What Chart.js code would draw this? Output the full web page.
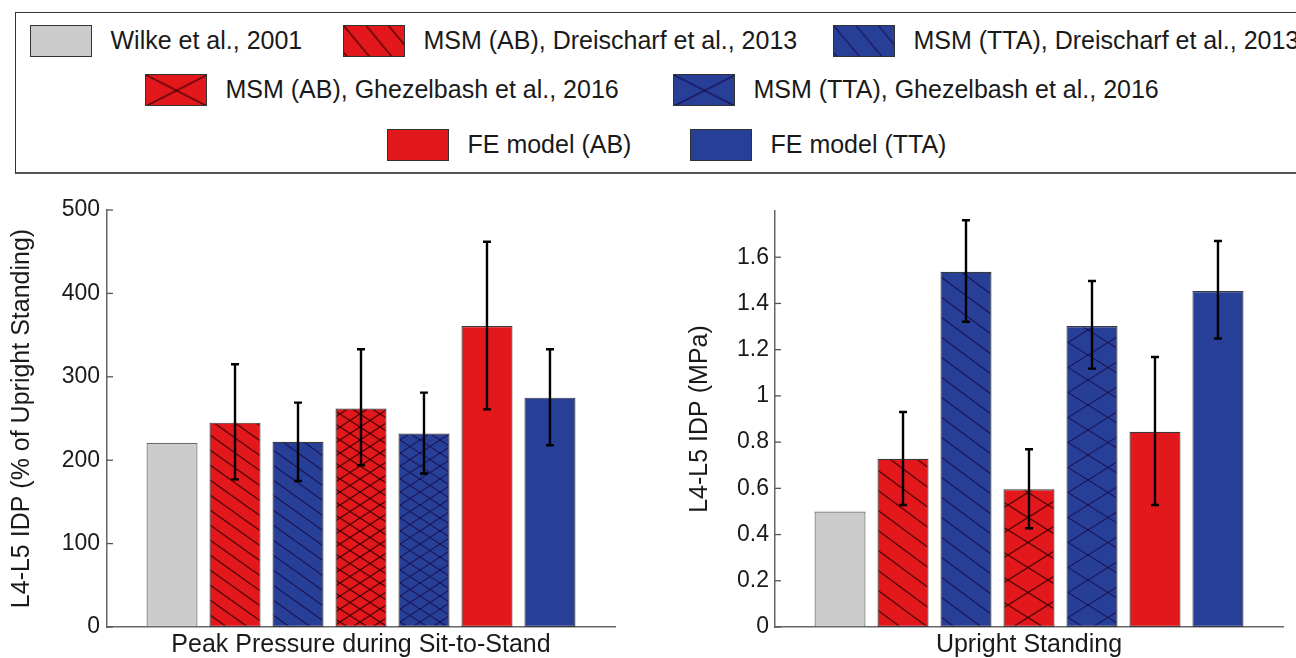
<!DOCTYPE html>
<html>
<head>
<meta charset="utf-8">
<script src="https://cdn.jsdelivr.net/npm/chart.js@4.4.1/dist/chart.umd.min.js"></script>
<style>
  body { margin: 0; width: 1296px; height: 658px; background: #fff; position: relative; overflow: hidden;
         font-family: "Liberation Sans", Arial, sans-serif; color: #1a1a1a; }
  #legend { position: absolute; left: 15px; top: 12px; width: 1320px; height: 159px;
            border: 1.5px solid #333; border-bottom: 2px solid #555; }
  .item { position: absolute; height: 34px; display: flex; align-items: center; font-size: 25px; white-space: nowrap; }
  .item canvas { width: 62px; height: 32px; box-sizing: border-box; border: 1.5px solid #333; margin-right: 19px; }
  .box { position: absolute; top: 180px; width: 648px; height: 478px; }
</style>
</head>
<body>
<div id="legend"></div>
<div class="box" style="left:0"><canvas id="left" width="648" height="478"></canvas></div>
<div class="box" style="left:648px"><canvas id="right" width="648" height="478"></canvas></div>
<script>
// series (legend order)
const seriesNames = [
  "Wilke et al., 2001",
  "MSM (AB), Dreischarf et al., 2013",
  "MSM (TTA), Dreischarf et al., 2013",
  "MSM (AB), Ghezelbash et al., 2016",
  "MSM (TTA), Ghezelbash et al., 2016",
  "FE model (AB)",
  "FE model (TTA)",
];

// left panel: % of upright standing
const leftCategory = ["Peak Pressure during Sit-to-Stand"];
const leftValues = [221, 245, 222, 262, 232, 361, 275];
const leftLow = [null, 177, 175, 194, 184, 261, 218];
const leftHigh = [null, 315, 269, 333, 281, 462, 333];

// right panel: MPa
const rightCategory = ["Upright Standing"];
const rightValues = [0.5, 0.728, 1.537, 0.596, 1.302, 0.845, 1.454];
const rightLow = [null, 0.528, 1.321, 0.427, 1.118, 0.528, 1.248];
const rightHigh = [null, 0.93, 1.76, 0.769, 1.497, 1.168, 1.67];

const GRAY = "#cccccc";
const RED = "#e2181c";
const BLUE = "#283f98";
const RED_LINE = "rgba(55,0,0,0.85)";
const BLUE_LINE = "rgba(22,12,75,0.9)";

// hatch tile: lines y = x*h/w (+ mirrored ones for cross)
function makePattern(fill, line, w, h, cross, lw) {
  const c = document.createElement("canvas");
  c.width = w; c.height = h;
  const g = c.getContext("2d");
  g.fillStyle = fill;
  g.fillRect(0, 0, w, h);
  g.strokeStyle = line;
  g.lineWidth = lw;
  for (let k = -1; k <= 1; k++) {
    g.beginPath(); g.moveTo(0, k * h); g.lineTo(w, (k + 1) * h); g.stroke();
    if (cross) { g.beginPath(); g.moveTo(0, (k + 1) * h); g.lineTo(w, k * h); g.stroke(); }
  }
  return g.createPattern(c, "repeat");
}

function fillsFor(hw, hh, cw, ch, lw) {
  return [
    GRAY,
    makePattern(RED, RED_LINE, hw, hh, false, lw),
    makePattern(BLUE, BLUE_LINE, hw, hh, false, lw * 0.8),
    makePattern(RED, RED_LINE, cw, ch, true, lw),
    makePattern(BLUE, BLUE_LINE, cw, ch, true, lw * 0.8),
    RED,
    BLUE,
  ];
}

// legend
const legendPos = [[30, 41], [343, 41], [833, 41], [145, 90], [673, 90], [387, 145], [690, 145]];
const legendFills = fillsFor(22, 26, 60, 30, 1.4);
const legendEl = document.getElementById("legend");
seriesNames.forEach((name, i) => {
  const item = document.createElement("div");
  item.className = "item";
  item.style.left = (legendPos[i][0] - 16.5) + "px";
  item.style.top = (legendPos[i][1] - 13.5 - 17) + "px";
  const sw = document.createElement("canvas");
  sw.width = 59; sw.height = 29;
  const g = sw.getContext("2d");
  g.fillStyle = legendFills[i];
  g.fillRect(0, 0, 59, 29);
  item.appendChild(sw);
  item.appendChild(document.createTextNode(name));
  legendEl.appendChild(item);
});

const errorBars = {
  id: "errorBars",
  afterDatasetsDraw(chart, args, opts) {
    const ctx = chart.ctx;
    const y = chart.scales.y;
    ctx.save();
    ctx.strokeStyle = "#000";
    ctx.lineWidth = 2.4;
    opts.low.forEach((lo, i) => {
      if (lo == null) return;
      const x = chart.getDatasetMeta(i).data[0].x;
      const y0 = y.getPixelForValue(lo);
      const y1 = y.getPixelForValue(opts.high[i]);
      ctx.beginPath();
      ctx.moveTo(x, y0); ctx.lineTo(x, y1);
      ctx.moveTo(x - 4, y0); ctx.lineTo(x + 4, y0);
      ctx.moveTo(x - 4, y1); ctx.lineTo(x + 4, y1);
      ctx.stroke();
    });
    ctx.restore();
  },
};

// matlab-style ticks pointing into the plot
const innerTicks = {
  id: "innerTicks",
  afterDraw(chart, args, opts) {
    const ctx = chart.ctx;
    const y = chart.scales.y;
    const left = chart.chartArea.left;
    ctx.save();
    ctx.strokeStyle = "#555";
    ctx.lineWidth = 1.3;
    y.ticks.forEach((t) => {
      if (t.value > opts.maxTick) return;
      const py = y.getPixelForValue(t.value);
      ctx.beginPath(); ctx.moveTo(left, py); ctx.lineTo(left + 6, py); ctx.stroke();
    });
    ctx.restore();
  },
};

function makeChart(id, category, values, low, high, fills, cfg) {
  return new Chart(document.getElementById(id), {
    type: "bar",
    plugins: [errorBars, innerTicks],
    data: {
      labels: category,
      datasets: values.map((v, i) => ({
        label: seriesNames[i],
        data: [v],
        backgroundColor: fills[i],
        borderColor: i === 0 ? "#6e6e6e" : "#3a3a3a",
        borderWidth: 1.2,
        borderSkipped: false,
        categoryPercentage: 0.868,
        barPercentage: 0.81,
      })),
    },
    options: {
      responsive: false,
      animation: false,
      layout: { padding: { left: cfg.padLeft, right: cfg.padRight, top: cfg.padTop, bottom: 0 } },
      plugins: {
        legend: { display: false },
        tooltip: { enabled: false },
        errorBars: { low: low, high: high },
        innerTicks: { maxTick: cfg.maxTick },
      },
      scales: {
        x: {
          grid: { display: false, drawTicks: false },
          border: { display: true, color: "#666", width: 1.5 },
          ticks: { color: "#1a1a1a", font: { size: 25, family: "Liberation Sans" }, padding: 3 },
          afterFit: (s) => { s.height = 31; },
        },
        y: {
          min: 0,
          max: cfg.max,
          grid: { display: false, drawTicks: false },
          border: { display: true, color: "#666", width: 1.5 },
          ticks: {
            stepSize: cfg.step,
            padding: cfg.tickPad,
            color: "#1a1a1a",
            font: { size: 23, family: "Liberation Sans" },
            callback: (v) => (v > cfg.maxTick ? "" : String(+v.toFixed(1))),
          },
          title: {
            display: true,
            text: cfg.title,
            color: "#1a1a1a",
            font: { size: 25, family: "Liberation Sans" },
            padding: 0,
          },
          afterFit: (s) => { s.width = cfg.yWidth; },
        },
      },
    },
  });
}

makeChart("left", leftCategory, leftValues, leftLow, leftHigh, fillsFor(21, 15, 20, 13, 1.3), {
  title: "L4-L5 IDP (% of Upright Standing)",
  max: 500, step: 100, maxTick: 500,
  padLeft: 7, padRight: 33, padTop: 30, yWidth: 100, tickPad: 7,
});

makeChart("right", rightCategory, rightValues, rightLow, rightHigh, fillsFor(27, 20, 40, 25, 1.3), {
  title: "L4-L5 IDP (MPa)",
  max: 1.8, step: 0.2, maxTick: 1.7,
  padLeft: 37, padRight: 13, padTop: 31, yWidth: 90, tickPad: 6,
});
</script>
</body>
</html>
